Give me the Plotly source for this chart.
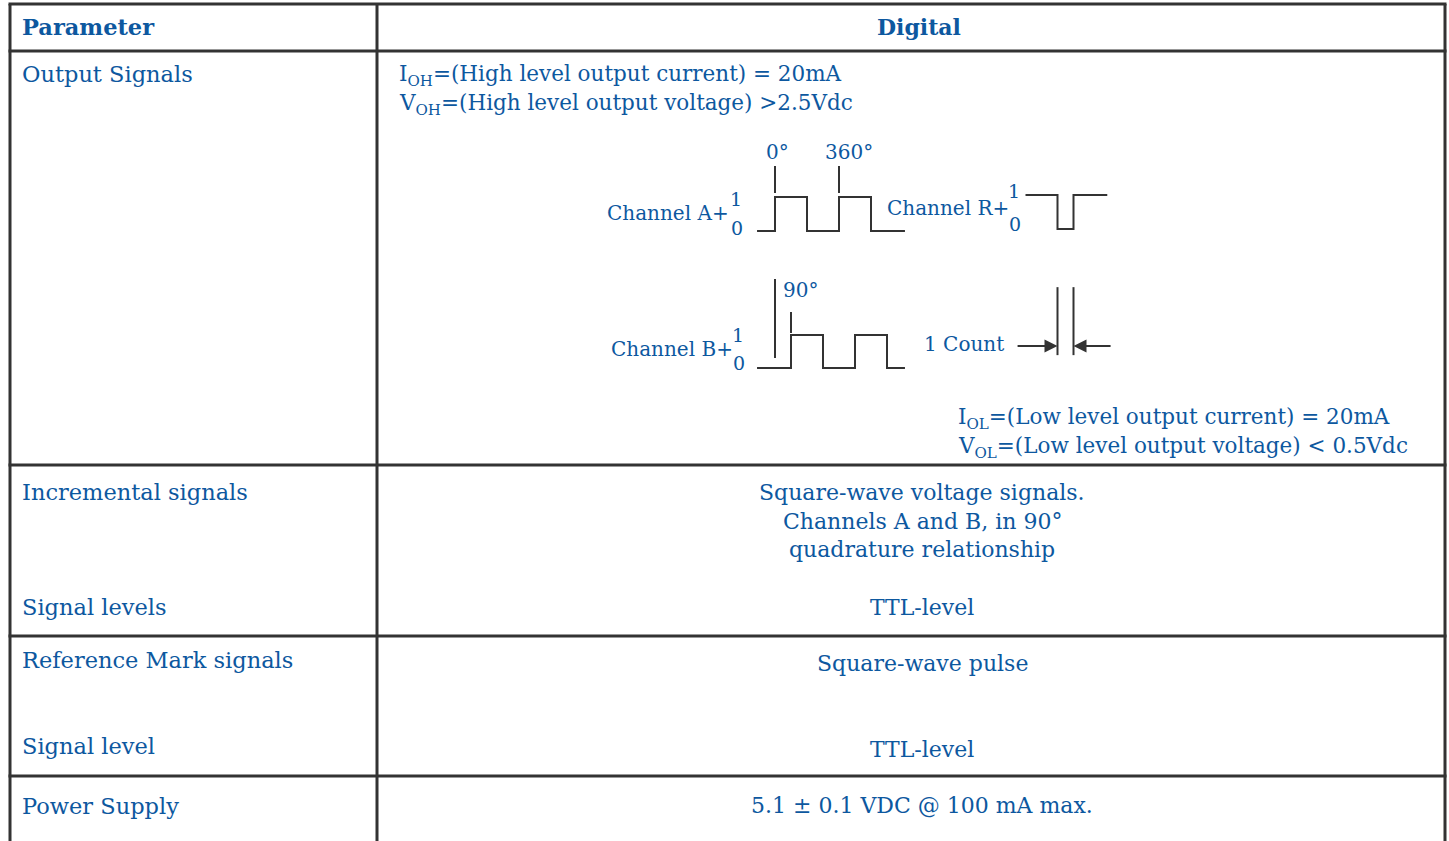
import plotly.graph_objects as go

W, H = 1449, 841
FONT = "DejaVu Serif"
BLUE = "#0d589f"
LINE = "#333333"

# ---------------- table content ----------------
header = ["Parameter", "Digital"]
row_bounds_px = [4, 51, 465, 636, 776]          # horizontal rules
col_bounds_px = [10, 377, 1445]                  # vertical rules
param_labels = ["Output Signals", "Incremental signals", "Signal levels",
                "Reference Mark signals", "Signal level", "Power Supply"]
param_y = [74, 492, 607, 660, 746, 806]
value_lines = ["Square-wave voltage signals.", "Channels A and B, in 90°",
               "quadrature relationship", "TTL-level", "Square-wave pulse",
               "TTL-level", "5.1 ± 0.1 VDC @ 100 mA max."]
value_y = [492, 521, 549, 607, 663, 749, 805]
high_lines = ["I<sub>OH</sub>=(High level output current) = 20mA",
              "V<sub>OH</sub>=(High level output voltage) >2.5Vdc"]
low_lines = ["I<sub>OL</sub>=(Low level output current) = 20mA",
             "V<sub>OL</sub>=(Low level output voltage) < 0.5Vdc"]

# ---------------- waveform data (phase in degrees, logic level) ----------------
chA_deg = [-101, 0, 0, 180, 180, 360, 360, 540, 540, 731]
chA_lvl = [0, 0, 1, 1, 0, 0, 1, 1, 0, 0]
chB_deg = [-101, 90, 90, 270, 270, 450, 450, 630, 630, 731]
chB_lvl = [0, 0, 1, 1, 0, 0, 1, 1, 0, 0]
chR_deg = [-180, 0, 0, 90, 90, 280]
chR_lvl = [1, 1, 0, 0, 1, 1]
markA_deg = [0, 360]            # 0° and 360° markers
markA_lbl = ["0°", "360°"]
markB_deg = 90
count_deg = [0, 90]             # one count = 90° edge spacing

fig = go.Figure()

def py(p):  # pixel-y -> paper fraction
    return 1 - p / H

def px(p):
    return p / W

# main axes in pixel units
fig.update_layout(
    xaxis=dict(range=[0, W], domain=[0, 1], visible=False, fixedrange=True),
    yaxis=dict(range=[H, 0], domain=[0, 1], visible=False, fixedrange=True),
)

# degree axis: 64 px per 360 deg
k = 64 / 360.0
def deg_range(p0, p1, origin):
    return [(p0 - origin) / k, (p1 - origin) / k]

fig.update_layout(
    xaxis2=dict(domain=[px(740), px(920)], range=deg_range(740, 920, 775),
                visible=False, anchor="y2", fixedrange=True),
    yaxis2=dict(domain=[py(245), py(130)], range=[(231 - 245) / 34, (231 - 130) / 34],
                visible=False, anchor="x2", fixedrange=True),
    yaxis3=dict(domain=[py(380), py(270)], range=[(368 - 380) / 33, (368 - 270) / 33],
                visible=False, anchor="x2", fixedrange=True),
    xaxis3=dict(domain=[px(1005), px(1125)], range=deg_range(1005, 1125, 1057.5),
                visible=False, anchor="y4", fixedrange=True),
    yaxis4=dict(domain=[py(245), py(150)], range=[(229 - 245) / 34, (229 - 150) / 34],
                visible=False, anchor="x3", fixedrange=True),
    yaxis5=dict(domain=[py(380), py(270)], range=[(368 - 380) / 33, (368 - 270) / 33],
                visible=False, anchor="x3", fixedrange=True),
)

lw = dict(color=LINE, width=2)
def L(x, y, xa, ya):
    fig.add_trace(go.Scatter(x=x, y=y, mode="lines", line=lw, xaxis=xa, yaxis=ya, hoverinfo="skip"))

L(chA_deg, chA_lvl, "x2", "y2")
L(chB_deg, chB_lvl, "x2", "y3")
L(chR_deg, chR_lvl, "x3", "y4")
for d in markA_deg:
    L([d, d], [1.12, 1.91], "x2", "y2")
L([0, 0], [0.3, 2.7], "x2", "y3")
L([markB_deg, markB_deg], [1.06, 1.7], "x2", "y3")
for d in count_deg:
    L([d, d], [0.39, 2.45], "x3", "y5")

ann = []
ann.append(dict(x=count_deg[0], y=0.67, ax=-233, ay=0.67, xref="x3", yref="y5", axref="x3", ayref="y5",
                text="", showarrow=True, arrowhead=2, arrowsize=1.3, arrowwidth=2, arrowcolor=LINE, standoff=0))
ann.append(dict(x=count_deg[1], y=0.67, ax=307, ay=0.67, xref="x3", yref="y5", axref="x3", ayref="y5",
                text="", showarrow=True, arrowhead=2, arrowsize=1.3, arrowwidth=2, arrowcolor=LINE, standoff=0))

def T(x, y, text, size=22, anchor="left", bold=False, xref="x", yref="y"):
    ann.append(dict(x=x, y=y, xref=xref, yref=yref, text=("<b>%s</b>" % text) if bold else text,
                    showarrow=False, xanchor=anchor, yanchor="middle",
                    font=dict(family=FONT, size=size, color=BLUE)))

T(20, 27, header[0], size=22.5, bold=True)
T(919, 27, header[1], anchor="center", bold=True)
for lab, y in zip(param_labels, param_y):
    T(20, y, lab, size=22.5)
for lab, y in zip(value_lines, value_y):
    T(922, y, lab, anchor="center")
T(397, 75, high_lines[0], size=21.5)
T(397, 104, high_lines[1], size=21.5)
T(956, 418, low_lines[0], size=21.5)
T(956, 447, low_lines[1], size=21.5)

label_offset_deg = [14, 56]
for d, off, lab in zip(markA_deg, label_offset_deg, markA_lbl):
    T(d + off, 2.32, lab, size=20, anchor="center", xref="x2", yref="y2")
T(markB_deg + 56, 2.35, "90°", size=20, anchor="center", xref="x2", yref="y3")
T(731, 213, "Channel A+", size=20, anchor="right")
T(736, 199, "1", size=19, anchor="center")
T(737, 228, "0", size=19, anchor="center")
T(1011, 208, "Channel R+", size=20, anchor="right")
T(1014, 191, "1", size=19, anchor="center")
T(1015, 224, "0", size=19, anchor="center")
T(735, 349, "Channel B+", size=20, anchor="right")
T(738, 335, "1", size=19, anchor="center")
T(739, 363, "0", size=19, anchor="center")
T(1006, 344, "1 Count", size=20, anchor="right")

shapes = []
for yb in row_bounds_px:
    shapes.append(dict(type="line", xref="x", yref="y", x0=col_bounds_px[0] - 1.5, x1=col_bounds_px[-1] + 1.5,
                       y0=yb, y1=yb, line=dict(color=LINE, width=3)))
for xb in col_bounds_px:
    shapes.append(dict(type="line", xref="x", yref="y", x0=xb, x1=xb, y0=row_bounds_px[0], y1=H + 5,
                       line=dict(color=LINE, width=3)))

fig.update_layout(
    width=W, height=H, margin=dict(l=0, r=0, t=0, b=0),
    paper_bgcolor="white", plot_bgcolor="white",
    showlegend=False, annotations=ann, shapes=shapes,
)
fig.write_html("out.html", config={"displayModeBar": False},
               post_script="document.body.style.margin='0';document.body.style.overflow='hidden';")
